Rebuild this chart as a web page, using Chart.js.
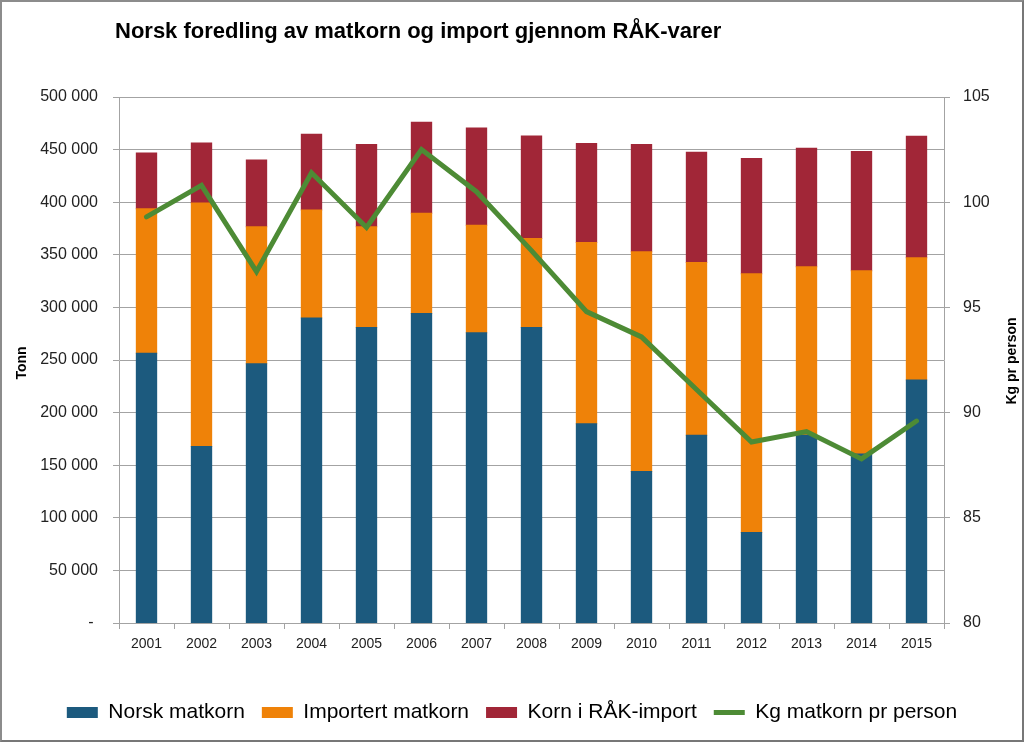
<!DOCTYPE html>
<html>
<head>
<meta charset="utf-8">
<script src="https://cdn.jsdelivr.net/npm/chart.js@4"></script>
<style>
html,body{margin:0;padding:0;background:#fff;}
#wrap{position:absolute;left:0;top:0;width:1024px;height:742px;box-sizing:border-box;border:2px solid #8c8c8c;border-right-color:#777;border-bottom-color:#777;background:#fff;}
canvas{display:block;}
</style>
</head>
<body>
<div id="wrap"><canvas id="c" width="1020" height="738"></canvas></div>
<script>
const TITLE = 'Norsk foredling av matkorn og import gjennom RÅK-varer';
const Y_TITLE = 'Tonn';
const Y1_TITLE = 'Kg pr person';
const years = ['2001','2002','2003','2004','2005','2006','2007','2008','2009','2010','2011','2012','2013','2014','2015'];
const seriesNames = ['Norsk matkorn','Importert matkorn','Korn i RÅK-import','Kg matkorn pr person'];
const norskMatkorn = [256400,167700,246500,289900,281000,294300,275900,281000,189500,143900,178500,86000,178500,160700,231000];
const importertMatkorn = [137300,231600,130100,102800,95600,95300,102300,84600,172300,208900,164200,245900,160100,174100,116100];
const kornRakImport = [53100,57000,63600,71900,78200,86400,92400,97400,93900,102000,104800,109600,112700,113400,115600];
const kgPrPerson = [99.3,100.8,96.7,101.4,98.8,102.5,100.5,97.7,94.8,93.6,91.1,88.6,89.1,87.8,89.6];
const yTicks = {min:0, max:500000, step:50000};
const y1Ticks = {min:80, max:105, step:5};
const zeroLabel = '-';

const FONT = '"Liberation Sans", Arial, sans-serif';
const gridColor = '#a3a3a3';
const tickColor = '#222';

function fmt(v){
  if (v === 0) return zeroLabel + ' ';
  return String(v).replace(/\B(?=(\d{3})+(?!\d))/g, ' ');
}

const textPlugin = {
  id: 'texts',
  afterDraw(chart){
    const ctx = chart.ctx;
    ctx.save();
    ctx.fillStyle = '#000';
    ctx.font = 'bold 22px ' + FONT;
    ctx.textAlign = 'left';
    ctx.textBaseline = 'alphabetic';
    ctx.fillText(TITLE, 113, 36);
    ctx.font = 'bold 14px ' + FONT;
    ctx.textAlign = 'center';
    ctx.textBaseline = 'middle';
    ctx.save();
    ctx.translate(20, 361);
    ctx.rotate(-Math.PI/2);
    ctx.fillText(Y_TITLE, 0, 0);
    ctx.restore();
    ctx.save();
    ctx.translate(1010, 359);
    ctx.rotate(-Math.PI/2);
    ctx.fillText(Y1_TITLE, 0, 0);
    ctx.restore();
    ctx.restore();
  }
};

const barCommon = {yAxisID: 'y', order: 1, pointStyle: 'rect', barPercentage: 0.37, categoryPercentage: 1, inflateAmount: 0.5};

new Chart(document.getElementById('c'), {
  type: 'bar',
  data: {
    labels: years,
    datasets: [
      Object.assign({label: seriesNames[0], data: norskMatkorn, backgroundColor: '#1c5a7e'}, barCommon),
      Object.assign({label: seriesNames[1], data: importertMatkorn, backgroundColor: '#ef8208'}, barCommon),
      Object.assign({label: seriesNames[2], data: kornRakImport, backgroundColor: '#a12637'}, barCommon),
      {type: 'line', label: seriesNames[3], data: kgPrPerson, borderColor: '#4d8b35', backgroundColor: '#4d8b35', borderWidth: 5, pointRadius: 0, pointHoverRadius: 0, pointStyle: 'line', borderCapStyle: 'round', tension: 0, yAxisID: 'y1', order: 0}
    ]
  },
  options: {
    responsive: false,
    animation: false,
    layout: {padding: {top: 95, bottom: 7, left: 0, right: 0}},
    plugins: {
      title: {display: false},
      tooltip: {enabled: false},
      legend: {
        position: 'bottom',
        labels: {
          usePointStyle: true,
          pointStyleWidth: 31,
          boxHeight: 11,
          padding: 17,
          color: '#000',
          font: {family: FONT, size: 21},
          sort: (a, b) => a.datasetIndex - b.datasetIndex
        }
      }
    },
    scales: {
      x: {
        stacked: true,
        grid: {offset: true, drawOnChartArea: false, tickLength: 6, color: gridColor},
        border: {color: gridColor},
        ticks: {color: tickColor, font: {family: FONT, size: 14}, padding: 7, maxRotation: 0},
        afterFit(s){ s.height = 62; }
      },
      y: {
        stacked: true,
        position: 'left',
        min: yTicks.min, max: yTicks.max,
        grid: {color: gridColor, tickLength: 6},
        border: {color: gridColor},
        ticks: {stepSize: yTicks.step, color: tickColor, font: {family: FONT, size: 16}, padding: 15, callback: v => fmt(v)},
        afterFit(s){ s.width = 117; }
      },
      y1: {
        position: 'right',
        min: y1Ticks.min, max: y1Ticks.max,
        grid: {drawOnChartArea: false, color: gridColor, tickLength: 6},
        border: {color: gridColor},
        ticks: {stepSize: y1Ticks.step, color: tickColor, font: {family: FONT, size: 16}, padding: 13},
        afterFit(s){ s.width = 78; }
      }
    }
  },
  plugins: [textPlugin]
});
</script>
</body>
</html>
